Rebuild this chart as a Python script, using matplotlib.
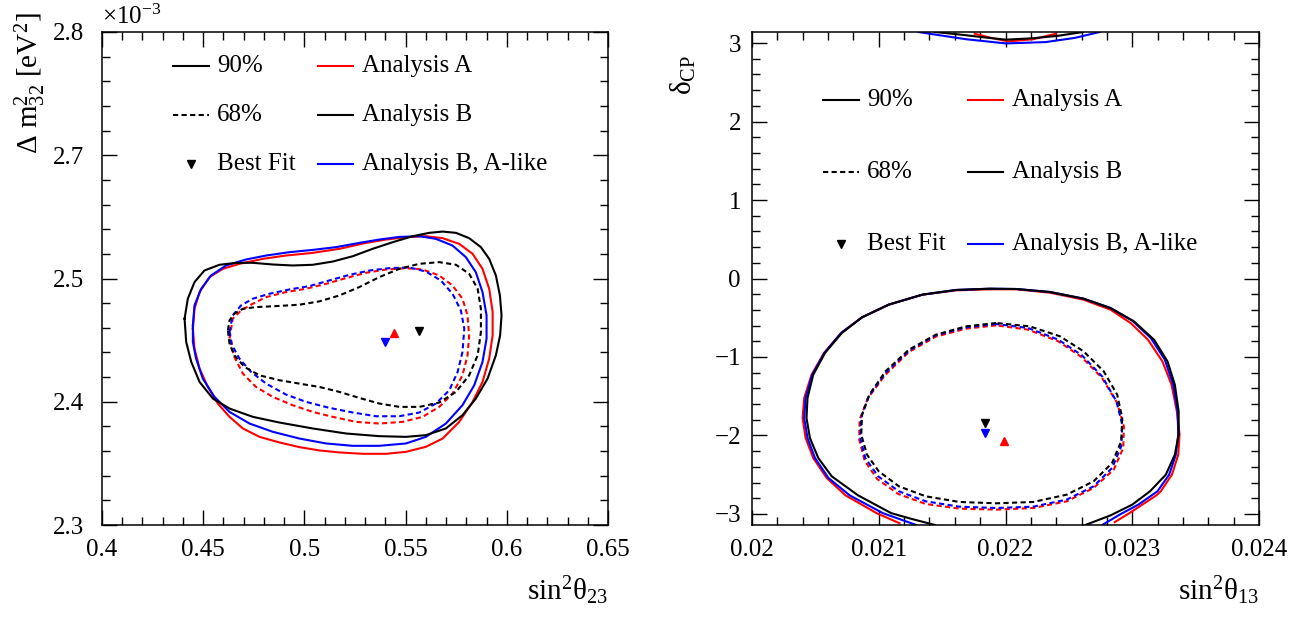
import matplotlib
matplotlib.use("Agg")
import matplotlib.pyplot as plt
from matplotlib.ticker import FixedLocator, MultipleLocator

plt.rcParams["font.family"] = "Liberation Serif"
plt.rcParams["mathtext.fontset"] = "custom"
plt.rcParams["mathtext.rm"] = "Liberation Serif"
plt.rcParams["mathtext.it"] = "Liberation Serif"
plt.rcParams["mathtext.bf"] = "Liberation Serif:bold"

# ---------------- left panel: sin^2(theta23) vs dm32^2 (units of 1e-3 eV^2)
th23_A_90 = [0.4449, 0.4457, 0.4482, 0.4531, 0.4597, 0.4679, 0.4794, 0.4909, 0.5041, 0.5173, 0.5304,
             0.5403, 0.5502, 0.5600, 0.5683, 0.5765, 0.5831, 0.5880, 0.5913, 0.5930, 0.5930, 0.5913,
             0.5880, 0.5831, 0.5765, 0.5683, 0.5600, 0.5502, 0.5403, 0.5288, 0.5173, 0.5074, 0.4975,
             0.4877, 0.4778, 0.4696, 0.4630, 0.4572, 0.4523, 0.4482, 0.4457, 0.4449]
dm32_A_90 = [2.4991, 2.5193, 2.5362, 2.5514, 2.5598, 2.5649, 2.5699, 2.5733, 2.5760, 2.5801, 2.5861,
             2.5895, 2.5919, 2.5929, 2.5909, 2.5851, 2.5750, 2.5598, 2.5396, 2.5160, 2.4923, 2.4687,
             2.4451, 2.4249, 2.4046, 2.3877, 2.3793, 2.3742, 2.3722, 2.3722, 2.3736, 2.3756, 2.3790,
             2.3837, 2.3894, 2.3979, 2.4097, 2.4232, 2.4400, 2.4586, 2.4788, 2.4991]

th23_B_90 = [0.4408, 0.4424, 0.4457, 0.4506, 0.4580, 0.4663, 0.4745, 0.4844, 0.4942, 0.5041, 0.5140,
             0.5239, 0.5337, 0.5436, 0.5535, 0.5617, 0.5683, 0.5749, 0.5814, 0.5872, 0.5913, 0.5946,
             0.5966, 0.5974, 0.5967, 0.5946, 0.5905, 0.5847, 0.5781, 0.5699, 0.5600, 0.5502, 0.5370,
             0.5206, 0.5041, 0.4877, 0.4745, 0.4630, 0.4548, 0.4482, 0.4441, 0.4416, 0.4408]
dm32_B_90 = [2.5092, 2.5295, 2.5463, 2.5581, 2.5639, 2.5659, 2.5659, 2.5642, 2.5632, 2.5639, 2.5672,
             2.5726, 2.5801, 2.5868, 2.5929, 2.5963, 2.5976, 2.5963, 2.5909, 2.5818, 2.5699, 2.5531,
             2.5328, 2.5126, 2.4923, 2.4721, 2.4485, 2.4282, 2.4114, 2.3979, 2.3911, 2.3894, 2.3901,
             2.3928, 2.3979, 2.4039, 2.4097, 2.4181, 2.4282, 2.4451, 2.4654, 2.4856, 2.5092]

th23_Bl_90 = [0.4449, 0.4457, 0.4490, 0.4539, 0.4613, 0.4712, 0.4811, 0.4926, 0.5041, 0.5156, 0.5271,
              0.5370, 0.5469, 0.5568, 0.5650, 0.5732, 0.5798, 0.5847, 0.5880, 0.5900, 0.5900, 0.5880,
              0.5839, 0.5781, 0.5699, 0.5600, 0.5502, 0.5370, 0.5239, 0.5107, 0.4975, 0.4844, 0.4729,
              0.4630, 0.4556, 0.4498, 0.4465, 0.4449, 0.4449]
dm32_Bl_90 = [2.5025, 2.5227, 2.5396, 2.5531, 2.5632, 2.5693, 2.5733, 2.5767, 2.5790, 2.5818, 2.5861,
              2.5895, 2.5922, 2.5929, 2.5902, 2.5834, 2.5716, 2.5564, 2.5362, 2.5126, 2.4890, 2.4654,
              2.4417, 2.4215, 2.4029, 2.3894, 2.3827, 2.3803, 2.3803, 2.3827, 2.3877, 2.3945, 2.4029,
              2.4147, 2.4299, 2.4485, 2.4687, 2.4856, 2.5025]

th23_A_68 = [0.4630, 0.4646, 0.4687, 0.4745, 0.4811, 0.4909, 0.5008, 0.5107, 0.5206, 0.5304, 0.5403,
             0.5502, 0.5584, 0.5666, 0.5732, 0.5781, 0.5806, 0.5814, 0.5806, 0.5781, 0.5732, 0.5666,
             0.5584, 0.5485, 0.5370, 0.5255, 0.5140, 0.5041, 0.4942, 0.4844, 0.4761, 0.4696, 0.4654,
             0.4630]
dm32_A_68 = [2.4890, 2.5092, 2.5176, 2.5244, 2.5311, 2.5362, 2.5396, 2.5446, 2.5504, 2.5558, 2.5591,
             2.5605, 2.5591, 2.5531, 2.5429, 2.5295, 2.5126, 2.4923, 2.4721, 2.4518, 2.4333, 2.4198,
             2.4097, 2.4046, 2.4029, 2.4046, 2.4097, 2.4147, 2.4215, 2.4299, 2.4400, 2.4535, 2.4704,
             2.4890]

th23_B_68 = [0.4622, 0.4630, 0.4654, 0.4696, 0.4761, 0.4860, 0.4975, 0.5074, 0.5173, 0.5271, 0.5370,
             0.5469, 0.5568, 0.5666, 0.5749, 0.5814, 0.5856, 0.5872, 0.5872, 0.5856, 0.5814, 0.5749,
             0.5666, 0.5568, 0.5469, 0.5370, 0.5271, 0.5173, 0.5074, 0.4975, 0.4877, 0.4778, 0.4704,
             0.4654, 0.4630, 0.4622]
dm32_B_68 = [2.4974, 2.5075, 2.5143, 2.5193, 2.5210, 2.5220, 2.5234, 2.5268, 2.5328, 2.5413, 2.5514,
             2.5598, 2.5649, 2.5666, 2.5639, 2.5548, 2.5396, 2.5193, 2.4957, 2.4721, 2.4518, 2.4350,
             2.4242, 2.4198, 2.4198, 2.4232, 2.4289, 2.4350, 2.4400, 2.4434, 2.4468, 2.4518, 2.4603,
             2.4721, 2.4839, 2.4974]

th23_Bl_68 = [0.4630, 0.4646, 0.4687, 0.4745, 0.4827, 0.4926, 0.5025, 0.5123, 0.5222, 0.5321, 0.5420,
              0.5518, 0.5600, 0.5674, 0.5732, 0.5773, 0.5790, 0.5781, 0.5757, 0.5716, 0.5650, 0.5568,
              0.5469, 0.5354, 0.5239, 0.5123, 0.5008, 0.4909, 0.4811, 0.4737, 0.4679, 0.4643, 0.4630]
dm32_Bl_68 = [2.4957, 2.5126, 2.5227, 2.5295, 2.5345, 2.5389, 2.5423, 2.5480, 2.5537, 2.5581, 2.5605,
              2.5612, 2.5571, 2.5480, 2.5345, 2.5176, 2.4991, 2.4755, 2.4552, 2.4367, 2.4232, 2.4141,
              2.4103, 2.4103, 2.4141, 2.4188, 2.4249, 2.4323, 2.4434, 2.4552, 2.4687, 2.4822, 2.4957]

# best fits (theta23, dm32)
bf_left = {"A": (0.5443, 2.4950), "B": (0.5568, 2.4967), "Bl": (0.5398, 2.4856)}

# ---------------- right panel: sin^2(theta13) vs delta_CP
# 90% contours wrap around -pi/+pi: lower part + arc at the top
th13_A_90 = [0.021164, 0.020984, 0.020737, 0.020589, 0.020483, 0.020423, 0.020399, 0.020412, 0.020470,
             0.020568, 0.020703, 0.020868, 0.021079, 0.021344, 0.021609, 0.021874, 0.022086, 0.022351,
             0.022616, 0.022828, 0.022987, 0.023124, 0.023238, 0.023310, 0.023352, 0.023373, 0.023363,
             0.023313, 0.023225, 0.023191, 0.022977, 0.022862]
dcp_A_90 = [-3.119, -2.991, -2.763, -2.542, -2.288, -2.033, -1.778, -1.523, -1.226, -0.949, -0.694,
            -0.495, -0.333, -0.206, -0.151, -0.138, -0.138, -0.181, -0.270, -0.397, -0.567, -0.780,
            -1.056, -1.353, -1.693, -1.990, -2.245, -2.500, -2.712, -2.763, -2.991, -3.105]
th13_A_90_top = [0.021757, 0.021888, 0.022020, 0.022217, 0.022398]
dcp_A_90_top = [3.12, 3.066, 3.022, 3.049, 3.12]

th13_B_90 = [0.021444, 0.021250, 0.021099, 0.020836, 0.020629, 0.020523, 0.020457, 0.020430, 0.020438,
             0.020483, 0.020576, 0.020709, 0.020868, 0.021079, 0.021344, 0.021609, 0.021874, 0.022086,
             0.022351, 0.022616, 0.022828, 0.023013, 0.023172, 0.023278, 0.023336, 0.023366, 0.023366,
             0.023336, 0.023265, 0.023140, 0.023000, 0.022830, 0.022630]
dcp_B_90 = [-3.1416, -3.060, -2.991, -2.763, -2.521, -2.288, -2.033, -1.778, -1.523, -1.226, -0.949,
            -0.694, -0.495, -0.333, -0.206, -0.146, -0.130, -0.134, -0.172, -0.257, -0.376, -0.546,
            -0.780, -1.056, -1.353, -1.693, -1.990, -2.245, -2.500, -2.712, -2.882, -3.018, -3.1416]
th13_B_90_top = [0.021444, 0.021658, 0.021822, 0.022003, 0.022217, 0.022414, 0.022612]
dcp_B_90_top = [3.1416, 3.106, 3.075, 3.044, 3.062, 3.093, 3.1416]

th13_Bl_90 = [0.021296, 0.021033, 0.020770, 0.020603, 0.020497, 0.020438, 0.020412, 0.020423, 0.020475,
              0.020571, 0.020703, 0.020868, 0.021079, 0.021344, 0.021609, 0.021874, 0.022086, 0.022351,
              0.022616, 0.022828, 0.023000, 0.023146, 0.023257, 0.023323, 0.023358, 0.023363, 0.023344,
              0.023291, 0.023199, 0.023050, 0.022900, 0.022763]
dcp_Bl_90 = [-3.1416, -2.991, -2.763, -2.542, -2.288, -2.033, -1.778, -1.523, -1.226, -0.949, -0.694,
             -0.495, -0.333, -0.206, -0.146, -0.130, -0.134, -0.172, -0.257, -0.376, -0.537, -0.758,
             -1.034, -1.353, -1.693, -1.990, -2.245, -2.500, -2.712, -2.880, -3.010, -3.1416]
th13_Bl_90_top = [0.021313, 0.021493, 0.021691, 0.022003, 0.022316, 0.022546, 0.022743]
dcp_Bl_90_top = [3.1416, 3.097, 3.049, 2.996, 3.013, 3.066, 3.1416]

th13_A_68 = [0.021927, 0.021689, 0.021450, 0.021238, 0.021053, 0.020915, 0.020849, 0.020846, 0.020889,
             0.020987, 0.021154, 0.021371, 0.021636, 0.021927, 0.022219, 0.022483, 0.022695, 0.022854,
             0.022929, 0.022934, 0.022881, 0.022762, 0.022603, 0.022417, 0.022179, 0.021927]
dcp_A_68 = [-0.597, -0.639, -0.741, -0.937, -1.226, -1.523, -1.799, -2.054, -2.322, -2.555, -2.746,
            -2.874, -2.933, -2.946, -2.925, -2.840, -2.670, -2.436, -2.160, -1.884, -1.587, -1.268,
            -1.005, -0.801, -0.652, -0.597]

th13_B_68 = [0.021927, 0.021689, 0.021450, 0.021238, 0.021053, 0.020926, 0.020868, 0.020862, 0.020907,
             0.021000, 0.021159, 0.021371, 0.021636, 0.021927, 0.022219, 0.022483, 0.022695, 0.022841,
             0.022913, 0.022921, 0.022881, 0.022775, 0.022616, 0.022430, 0.022192, 0.021927]
dcp_B_68 = [-0.567, -0.610, -0.716, -0.907, -1.183, -1.480, -1.735, -1.990, -2.245, -2.457, -2.649,
            -2.776, -2.848, -2.865, -2.848, -2.755, -2.585, -2.351, -2.075, -1.778, -1.480, -1.183,
            -0.928, -0.737, -0.610, -0.567]

th13_Bl_68 = [0.021927, 0.021689, 0.021450, 0.021238, 0.021053, 0.020921, 0.020860, 0.020854, 0.020894,
              0.020995, 0.021159, 0.021371, 0.021636, 0.021927, 0.022219, 0.022483, 0.022695, 0.022841,
              0.022913, 0.022921, 0.022875, 0.022762, 0.022603, 0.022417, 0.022179, 0.021927]
dcp_Bl_68 = [-0.580, -0.622, -0.724, -0.920, -1.204, -1.502, -1.778, -2.033, -2.288, -2.521, -2.712,
             -2.840, -2.908, -2.925, -2.908, -2.818, -2.649, -2.415, -2.139, -1.863, -1.565, -1.247,
             -0.979, -0.780, -0.631, -0.580]

bf_right = {"A": (0.021990, -2.065), "B": (0.021838, -1.84), "Bl": (0.021838, -1.963)}

# axis ticks
th23_ticks = [0.4, 0.45, 0.5, 0.55, 0.6, 0.65]
th23_labels = ["0.4", "0.45", "0.5", "0.55", "0.6", "0.65"]
dm32_ticks = [2.3, 2.425, 2.55, 2.675, 2.8]
dm32_labels = ["2.3", "2.4", "2.5", "2.7", "2.8"]
th13_ticks = [0.020, 0.021, 0.022, 0.023, 0.024]
th13_labels = ["0.02", "0.021", "0.022", "0.023", "0.024"]
dcp_ticks = [-3, -2, -1, 0, 1, 2, 3]
dcp_labels = ["\u22123", "\u22122", "\u22121", "0", "1", "2", "3"]

colors = {"A": "#ff0000", "B": "#000000", "Bl": "#0000ff"}
key_names = {"A": "Analysis A", "B": "Analysis B", "Bl": "Analysis B, A-like"}
FS = 18
FS_T = 21
LW = 1.5
DASH = (0, (2.5, 1.6))
MS = 6


def style_axes(ax, xt, xl, yt, yl, xminor, yminor, ypad):
    ax.xaxis.set_major_locator(FixedLocator(xt))
    ax.set_xticklabels(xl)
    ax.yaxis.set_major_locator(FixedLocator(yt))
    ax.set_yticklabels(yl)
    ax.xaxis.set_minor_locator(MultipleLocator(xminor))
    ax.yaxis.set_minor_locator(MultipleLocator(yminor))
    ax.tick_params(which="both", direction="in", top=True, right=True, labelsize=FS, width=1.0)
    ax.tick_params(which="major", length=11)
    ax.tick_params(which="minor", length=6)
    ax.tick_params(axis="x", pad=10)
    ax.tick_params(axis="y", pad=ypad)
    for s in ax.spines.values():
        s.set_linewidth(1.1)


def draw_key(ax, rows_y):
    # two column key like the ROOT TLegend: line styles / analyses
    x_h0, x_h1, x_t = 0.140, 0.2115, 0.2273
    x_h2, x_h3, x_t2 = 0.4265, 0.4955, 0.5133
    kw = dict(transform=ax.transAxes, clip_on=False)
    ax.plot([x_h0, x_h1], [rows_y[0]] * 2, color="k", lw=LW, **kw)
    ax.plot([x_h0, x_h1], [rows_y[1]] * 2, color="k", lw=LW, ls=DASH, **kw)
    ax.plot([(x_h0 + x_h1) / 2], [rows_y[2]], marker="v", color="k", ms=MS, ls="none", **kw)
    for y, lab in zip(rows_y, ["90%", "68%", "Best Fit"]):
        ax.text(x_t, y, lab, fontsize=FS, va="center", ha="left", transform=ax.transAxes)
    for y, k in zip(rows_y, ["A", "B", "Bl"]):
        ax.plot([x_h2, x_h3], [y, y], color=colors[k], lw=LW, **kw)
        ax.text(x_t2, y, key_names[k], fontsize=FS, va="center", ha="left", transform=ax.transAxes)


fig = plt.figure(figsize=(12.98, 6.19), dpi=100)
W, H = 1298.0, 619.0
ax1 = fig.add_axes([102 / W, 1 - 525 / H, 506 / W, 493 / H])
ax2 = fig.add_axes([752 / W, 1 - 525 / H, 507 / W, 493 / H])

# left panel
left90 = {"A": (th23_A_90, dm32_A_90), "B": (th23_B_90, dm32_B_90), "Bl": (th23_Bl_90, dm32_Bl_90)}
left68 = {"A": (th23_A_68, dm32_A_68), "B": (th23_B_68, dm32_B_68), "Bl": (th23_Bl_68, dm32_Bl_68)}
for k in ["A", "Bl", "B"]:
    ax1.plot(*left90[k], color=colors[k], lw=LW)
    ax1.plot(*left68[k], color=colors[k], lw=LW, ls=DASH)
for k, mk in zip(["A", "B", "Bl"], ["^", "v", "v"]):
    ax1.plot([bf_left[k][0]], [bf_left[k][1]], marker=mk, color=colors[k], ms=MS, ls="none")
ax1.set_xlim(0.4, 0.65)
ax1.set_ylim(2.3, 2.8)
style_axes(ax1, th23_ticks, th23_labels, dm32_ticks, dm32_labels, 0.01, 0.025, 13)
draw_key(ax1, [0.931, 0.832, 0.7323])
ax1.text(1.0, -0.1, r"sin$^{2}\theta_{23}$", fontsize=FS_T, ha="right", va="top", transform=ax1.transAxes)
ax1.text(0.0, 1.006, r"$\times$10$^{-3}$", fontsize=FS, ha="left", va="bottom", transform=ax1.transAxes)
fig.text(30 / W, 1 - 12 / H, r"$\Delta$ m$^{2}_{32}$ [eV$^{2}$]", fontsize=FS_T, rotation=90,
         rotation_mode="anchor", ha="right", va="center")

# right panel
right90 = {"A": (th13_A_90, dcp_A_90), "B": (th13_B_90, dcp_B_90), "Bl": (th13_Bl_90, dcp_Bl_90)}
right90_top = {"A": (th13_A_90_top, dcp_A_90_top), "B": (th13_B_90_top, dcp_B_90_top),
               "Bl": (th13_Bl_90_top, dcp_Bl_90_top)}
right68 = {"A": (th13_A_68, dcp_A_68), "B": (th13_B_68, dcp_B_68), "Bl": (th13_Bl_68, dcp_Bl_68)}
for k in ["A", "Bl", "B"]:
    ax2.plot(*right90[k], color=colors[k], lw=LW)
    ax2.plot(*right90_top[k], color=colors[k], lw=LW)
    ax2.plot(*right68[k], color=colors[k], lw=LW, ls=DASH)
for k, mk in zip(["A", "B", "Bl"], ["^", "v", "v"]):
    ax2.plot([bf_right[k][0]], [bf_right[k][1]], marker=mk, color=colors[k], ms=MS, ls="none")
ax2.set_xlim(0.020, 0.024)
ax2.set_ylim(-3.14159, 3.14159)
style_axes(ax2, th13_ticks, th13_labels, dcp_ticks, dcp_labels, 0.0002, 0.2, 8)
draw_key(ax2, [0.862, 0.716, 0.570])
ax2.text(1.0, -0.1, r"sin$^{2}\theta_{13}$", fontsize=FS_T, ha="right", va="top", transform=ax2.transAxes)
fig.text(683 / W, 1 - 55 / H, r"$\delta_{\rm CP}$", fontsize=FS_T, rotation=90,
         rotation_mode="anchor", ha="right", va="center")

fig.savefig("out.png", dpi=100)
